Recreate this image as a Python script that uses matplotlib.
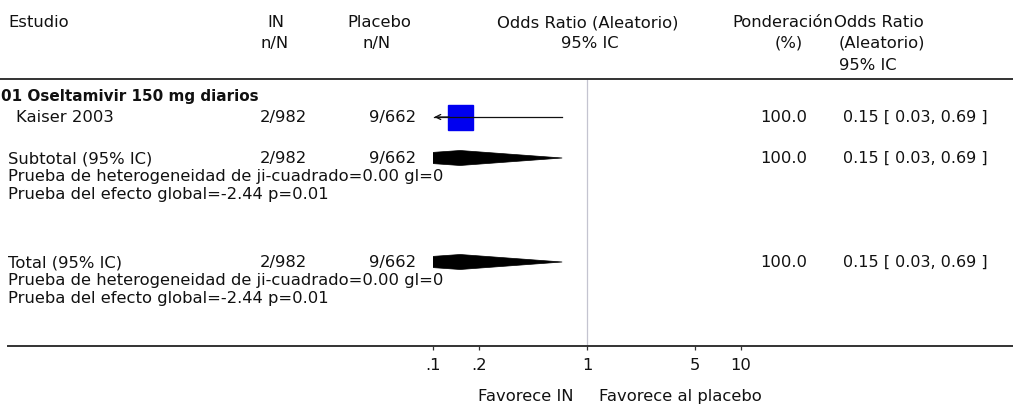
import matplotlib
matplotlib.use("Agg")
import matplotlib.pyplot as plt
import matplotlib.transforms as mtransforms
from matplotlib.lines import Line2D
from matplotlib.patches import Polygon
from matplotlib.ticker import NullLocator

# ---------------- data ----------------
group_title = "01 Oseltamivir 150 mg diarios"
study_names = ["Kaiser 2003"]
in_events = ["2/982"]
placebo_events = ["9/662"]
study_or = [0.15]
study_lo = [0.03]
study_hi = [0.69]
study_weight = ["100.0"]
study_ci_text = ["0.15 [ 0.03, 0.69 ]"]

subtotal_label = "Subtotal (95% IC)"
total_label = "Total (95% IC)"
pooled_in = "2/982"
pooled_placebo = "9/662"
pooled_or = 0.15
pooled_lo = 0.03
pooled_hi = 0.69
pooled_weight = "100.0"
pooled_ci_text = "0.15 [ 0.03, 0.69 ]"
het_text = "Prueba de heterogeneidad de ji-cuadrado=0.00 gl=0"
eff_text = "Prueba del efecto global=-2.44 p=0.01"

tick_values = [0.1, 0.2, 1, 5, 10]
tick_labels = [".1", ".2", "1", "5", "10"]
favours_left = "Favorece IN"
favours_right = "Favorece al placebo"

# ---------------- layout ----------------
W, H = 1013, 407
plt.rcParams['font.family'] = ['DejaVu Sans']
FS = 11.8
TC = '#111111'

fig = plt.figure(figsize=(W / 100, H / 100), dpi=100)
fig.patch.set_facecolor('white')

top_px, bot_px = 79, 346
left_px, right_px = 433, 741
ax = fig.add_axes([left_px / W, 1 - bot_px / H, (right_px - left_px) / W, (bot_px - top_px) / H])
ax.set_xscale('log')
ax.set_xlim(0.1, 10)
ax.set_ylim(bot_px, top_px)  # rows measured in pixels from top
for s in ax.spines.values():
    s.set_visible(False)
ax.patch.set_alpha(0)
ax.set_yticks([])
ax.xaxis.set_minor_locator(NullLocator())
ax.set_xticks(tick_values)
ax.set_xticklabels([''] * len(tick_values))
ax.tick_params(axis='x', direction='out', length=3, width=0.9, color='#333333')

tr = mtransforms.blended_transform_factory(fig.transFigure, ax.transData)


def T(xpx, y, s, ha='left', weight='normal', size=FS):
    ax.text(xpx / W, y, s, transform=tr, ha=ha, va='baseline', fontsize=size,
            color=TC, fontweight=weight, clip_on=False)


# header
T(8, 27, "Estudio")
T(276, 27, "IN", ha='center')
T(275, 48, "n/N", ha='center')
T(379, 27, "Placebo", ha='center')
T(377, 48, "n/N", ha='center')
T(588, 27, "Odds Ratio (Aleatorio)", ha='center')
T(590, 48, "95% IC", ha='center')
T(833, 27, "Ponderación", ha='right')
T(803, 48, "(%)", ha='right')
T(834, 27, "Odds Ratio")
T(839, 48, "(Aleatorio)")
T(839, 70, "95% IC")

# full-width rules
fig.add_artist(Line2D([0, 1], [1 - top_px / H] * 2, transform=fig.transFigure,
                      color='#333333', lw=1.4))
fig.add_artist(Line2D([8 / W, 1], [1 - bot_px / H] * 2, transform=fig.transFigure,
                      color='#333333', lw=1.4))

# line of no effect
ax.axvline(1, color='#c4c4d0', lw=0.9, zorder=1)

# group title
T(1, 101, group_title, weight='bold', size=FS - 0.8)

# studies
study_rows = [117]
for i, y in enumerate(study_rows):
    T(16, y + 5, study_names[i])
    T(307, y + 5, in_events[i], ha='right')
    T(416, y + 5, placebo_events[i], ha='right')
    T(807, y + 5, study_weight[i], ha='right')
    T(843, y + 5, study_ci_text[i], size=FS - 0.3)
    ax.plot([max(study_lo[i], ax.get_xlim()[0] * 1.02), study_hi[i]], [y, y],
            color='#111111', lw=0.9, zorder=4)
    ax.plot([study_or[i]], [y], marker='s', markersize=18, color='#0000f0',
            markeredgecolor='#0000f0', zorder=3)
    if study_lo[i] < ax.get_xlim()[0]:
        xl = ax.get_xlim()[0] * 1.02
        ax.annotate('', xy=(xl, y), xytext=(xl * 1.25, y),
                    arrowprops=dict(arrowstyle='->', lw=0.9, color='#111111',
                                    mutation_scale=9, shrinkA=0, shrinkB=0),
                    zorder=5)


def pooled_block(y, label):
    T(8, y + 5, label)
    T(307, y + 5, pooled_in, ha='right')
    T(416, y + 5, pooled_placebo, ha='right')
    T(807, y + 5, pooled_weight, ha='right')
    T(843, y + 5, pooled_ci_text, size=FS - 0.3)
    T(8, y + 23, het_text)
    T(8, y + 41, eff_text)
    h = 7.5
    poly = Polygon([(pooled_lo, y), (pooled_or, y - h), (pooled_hi, y), (pooled_or, y + h)],
                   closed=True, facecolor='black', edgecolor='black', lw=0.5, zorder=3)
    ax.add_patch(poly)


pooled_block(158, subtotal_label)
pooled_block(262, total_label)

# tick labels and favours labels
for v, lbl in zip(tick_values, tick_labels):
    ax.text(v, 370, lbl, ha='center', va='baseline', fontsize=FS, color=TC, clip_on=False)
T(573, 401, favours_left, ha='right')
T(599, 401, favours_right)

fig.savefig("out.png", dpi=100, facecolor='white')
